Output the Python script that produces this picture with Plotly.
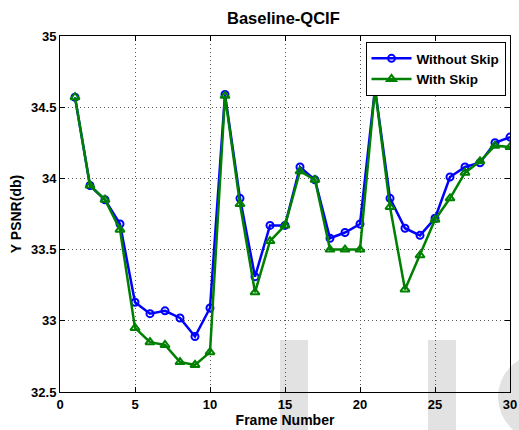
import plotly.graph_objects as go

frames = list(range(1, 31))
without_skip = [34.57, 33.95, 33.85, 33.68, 33.13, 33.05, 33.07, 33.02, 32.89, 33.09,
                34.59, 33.86, 33.31, 33.67, 33.67, 34.08, 33.99, 33.58, 33.62, 33.68,
                34.63, 33.86, 33.65, 33.60, 33.72, 34.01, 34.08, 34.11, 34.25, 34.29]
with_skip = [34.57, 33.95, 33.85, 33.64, 32.95, 32.85, 32.83, 32.71, 32.69, 32.78,
             34.58, 33.82, 33.20, 33.56, 33.67, 34.05, 33.99, 33.50, 33.50, 33.50,
             34.63, 33.80, 33.22, 33.46, 33.71, 33.86, 34.04, 34.12, 34.23, 34.22]

x_ticks = [0, 5, 10, 15, 20, 25, 30]
y_ticks = [32.5, 33, 33.5, 34, 34.5, 35]
y_tick_text = ["32.5", "33", "33.5", "34", "34.5", "35"]

font_family = "Liberation Sans, Arial, sans-serif"

fig = go.Figure()
fig.add_trace(go.Scatter(
    x=frames, y=without_skip, name="Without Skip", mode="lines+markers",
    line=dict(color="#0000ff", width=2.5),
    marker=dict(symbol="circle-open", size=7, color="#0000ff", line=dict(width=2)),
))
fig.add_trace(go.Scatter(
    x=frames, y=with_skip, name="With Skip", mode="lines+markers",
    line=dict(color="#008000", width=2.5),
    marker=dict(symbol="triangle-up-open", size=8, color="#008000", line=dict(width=2)),
))

# light grey background decorations near the bottom edge
for x0, x1 in [(280, 308), (428, 456)]:
    fig.add_shape(type="rect", xref="paper", yref="paper",
                  x0=(x0 - 60) / 450, x1=(x1 - 60) / 450,
                  y0=-38 / 356, y1=(392 - 340) / 356,
                  fillcolor="#e2e2e2", line=dict(width=0), layer="below")
fig.add_shape(type="circle", xref="paper", yref="paper",
              x0=(498 - 60) / 450, x1=(584 - 60) / 450,
              y0=(392 - 440) / 356, y1=(392 - 354) / 356,
              fillcolor="#e2e2e2", line=dict(width=0), layer="below")

axis_common = dict(
    showline=True, linecolor="black", linewidth=1, mirror="ticks",
    ticks="inside", ticklen=5, tickcolor="black",
    showgrid=True, gridcolor="#555555", griddash="1px,3px", gridwidth=1,
    zeroline=False, automargin=False,
    tickfont=dict(family=font_family, size=13, color="black", weight="bold"),
)

fig.update_layout(
    width=519, height=430,
    margin=dict(l=60, r=9, t=36, b=38),
    paper_bgcolor="white", plot_bgcolor="rgba(0,0,0,0)",
    title=dict(text="<b>Baseline-QCIF</b>", x=0.546, xanchor="center", y=0.958, yanchor="middle",
               font=dict(family=font_family, size=16.5, color="black")),
    xaxis=dict(range=[0, 30], tickvals=x_ticks,
               title=dict(text="<b>Frame Number</b>", standoff=2,
                          font=dict(family=font_family, size=14, color="black")),
               **axis_common),
    yaxis=dict(range=[32.5, 35], tickvals=y_ticks, ticktext=y_tick_text,
               title=dict(text="<b>Y PSNR(db)</b>", standoff=6,
                          font=dict(family=font_family, size=14, color="black")),
               **axis_common),
    legend=dict(x=0.99, y=0.983, xanchor="right", yanchor="top",
                bgcolor="white", bordercolor="black", borderwidth=1,
                font=dict(family=font_family, size=13.5, color="black", weight="bold"),
                tracegroupgap=0, itemwidth=40),
    showlegend=True,
)

fig.write_html("out.html")
